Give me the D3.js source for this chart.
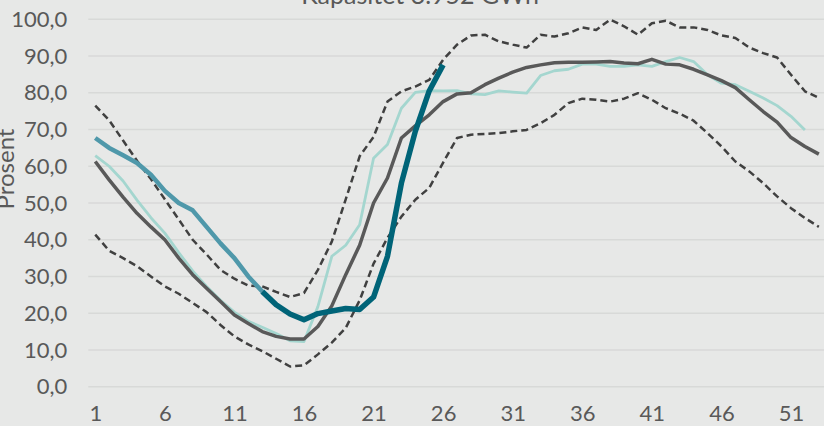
<!DOCTYPE html>
<html>
<head>
<meta charset="utf-8">
<script src="https://cdn.jsdelivr.net/npm/d3@7"></script>
<style>
  body { margin: 0; background: #e7e8e7; }
  svg { display: block; font-family: Lato, "Noto Sans", sans-serif; }
</style>
</head>
<body>
<svg id="chart" width="824" height="426"></svg>
<script>
let weeks = d3.range(1, 54);
let xTicks = [1, 6, 11, 16, 21, 26, 31, 36, 41, 46, 51];
let yTicks = [0, 10, 20, 30, 40, 50, 60, 70, 80, 90, 100];

// max / min / median over earlier years
let maxVals = [76.5, 72.5, 67, 61.5, 56.5, 51, 45.5, 40, 36, 31.8, 29.4, 27.5, 27.3, 25.8, 24.4, 25.5, 31.8, 39.5, 51, 62.7,
  68, 77.6, 80.4, 81.7, 83.5, 89, 93.1, 95.6, 95.8, 94.0, 93.1, 92.3, 95.8, 95.3, 96.2, 97.8, 97.1, 99.9, 98.1, 95.8,
  98.9, 99.6, 97.8, 97.8, 97.1, 95.6, 94.9, 92.3, 90.8, 89.6, 84.9, 80.4, 78.6];
let minVals = [41.4, 37.0, 35.0, 32.8, 30.0, 27.3, 25.3, 22.8, 20.3, 16.8, 13.7, 11.5, 9.7, 7.6, 5.5, 5.8, 8.8, 12.0, 16.0, 23.5,
  33.5, 40.5, 46.3, 50.9, 54.1, 61.0, 67.7, 68.6, 68.8, 69.0, 69.5, 69.9, 71.7, 74.0, 77.2, 78.4, 78.1, 77.6, 78.4, 79.9,
  78.1, 75.8, 74.3, 72.4, 69.0, 65.4, 61.3, 58.6, 55.4, 51.8, 48.6, 45.9, 43.5];
let medianVals = [61.3, 56.3, 51.6, 47.2, 43.5, 40.0, 35.0, 30.5, 26.8, 23.2, 19.5, 17.2, 15.0, 13.7, 13.0, 13.0, 16.4, 22.0, 30.5, 38.5,
  50.0, 56.8, 67.7, 71.0, 74.0, 77.6, 79.7, 80.0, 82.2, 84.0, 85.6, 86.9, 87.6, 88.2, 88.3, 88.3, 88.4, 88.5, 88.1, 87.9,
  89.1, 87.8, 87.6, 86.4, 84.9, 83.3, 81.4, 78.1, 74.9, 72.0, 67.8, 65.4, 63.3];
// last year (weeks 1-52)
let lastYear = [62.9, 60.0, 56.0, 50.8, 46.0, 41.8, 36.5, 31.5, 27.3, 23.5, 20.3, 17.8, 16.2, 14.5, 12.5, 12.3, 21.8, 35.5, 38.5, 44.1,
  62.2, 65.9, 75.8, 80.1, 80.6, 80.5, 80.6, 79.7, 79.5, 80.5, 80.2, 79.9, 84.7, 86.0, 86.4, 87.8, 87.8, 87.2, 87.2, 87.6,
  87.2, 88.5, 89.6, 88.5, 84.9, 82.6, 82.2, 80.4, 78.6, 76.5, 73.6, 69.9];
// this year, weeks 1-13 and 13-26
let thisYearA = [67.7, 65.0, 63.0, 60.9, 57.7, 53.3, 50.0, 48.0, 43.5, 39.0, 35.0, 30.0, 25.9];
let thisYearB = [25.9, 22.3, 19.8, 18.2, 19.9, 20.6, 21.3, 21.0, 24.4, 35.5, 55.4, 69.5, 80.5, 87.6];

const svg = d3.select("#chart");
const plotLeft = 88.3, plotRight = 825.8, plotTop = 19.3, plotBottom = 386.7;

let xscale = d3.scalePoint().domain(weeks).range([plotLeft, plotRight]).padding(0.5);
let yscale = d3.scaleLinear().domain([0, 100]).range([plotBottom, plotTop]);

// grid
svg.append("g").selectAll("line")
    .data(yTicks)
    .enter()
    .append("line")
    .attr("x1", plotLeft).attr("x2", plotRight)
    .attr("y1", d => yscale(d)).attr("y2", d => yscale(d))
    .attr("stroke", "#d8d9d8")
    .attr("stroke-width", 1.5);

let fmt = d => d3.format(".1f")(d).replace(".", ",");
let yAxis = d3.axisLeft(yscale).tickValues(yTicks).tickFormat(fmt).tickSize(0).tickPadding(21);
let xAxis = d3.axisBottom(xscale).tickValues(xTicks).tickSize(0).tickPadding(19);

const gy = svg.append("g").attr("transform", `translate(${plotLeft},0)`).call(yAxis);
const gx = svg.append("g").attr("transform", `translate(0,${plotBottom})`).call(xAxis);
[gx, gy].forEach(g => {
    g.select(".domain").remove();
    g.selectAll("text").attr("fill", "#595959").style("font-size", "22px").style("font-family", "Lato, sans-serif");
});

let line = d3.line().x(d => xscale(d.w)).y(d => yscale(d.v));
let toPts = (vals, start) => vals.map((v, i) => ({ w: start + i, v: v }));

function draw(vals, start, color, width, dash) {
    svg.append("path")
        .datum(toPts(vals, start))
        .attr("d", line)
        .attr("fill", "none")
        .attr("stroke", color)
        .attr("stroke-width", width)
        .attr("stroke-linejoin", "round")
        .attr("stroke-dasharray", dash || null);
}

draw(maxVals, 1, "#404040", 2.5, "7,4");
draw(minVals, 1, "#404040", 2.5, "7,4");
draw(lastYear, 1, "#a4d6cf", 2.8);
draw(medianVals, 1, "#595959", 3.5);
draw(thisYearA, 1, "#4f98aa", 4.5);
draw(thisYearB, 13, "#006478", 5.5);

// title (cut at top) and y label
svg.append("text")
    .attr("x", 420).attr("y", 4)
    .attr("text-anchor", "middle")
    .attr("fill", "#595959")
    .style("font-size", "25px")
    .text("Kapasitet 3.952 GWh");

svg.append("text")
    .attr("transform", "translate(14,169) rotate(-90)")
    .attr("text-anchor", "middle")
    .attr("fill", "#595959")
    .style("font-size", "24px")
    .text("Prosent");
</script>
</body>
</html>
